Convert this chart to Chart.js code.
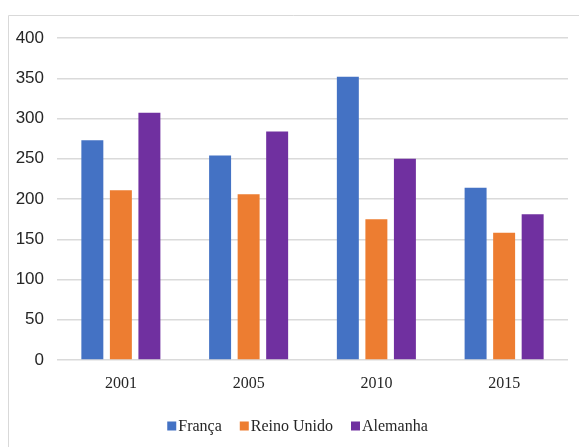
<!DOCTYPE html>
<html>
<head>
<meta charset="utf-8">
<script src="https://cdn.jsdelivr.net/npm/chart.js@4"></script>
<style>
  html, body { margin: 0; padding: 0; background: #fff; }
  #wrap { position: relative; width: 579px; height: 447px; }
</style>
</head>
<body>
<div id="wrap"><canvas id="c" width="579" height="447"></canvas></div>
<script>
// Anos e valores por país
const categories = ['2001', '2005', '2010', '2015'];
const franca = [273, 254, 352, 214];
const reinoUnido = [211, 206, 175, 158];
const alemanha = [307, 284, 250, 181];
const yTicks = [0, 50, 100, 150, 200, 250, 300, 350, 400];

const seriesNames = ['França', 'Reino Unido', 'Alemanha'];
const seriesColors = ['#4472C4', '#ED7D31', '#7030A0'];

// Moldura cinzenta à volta do gráfico
const framePlugin = {
  id: 'frame',
  beforeDraw(chart) {
    const ctx = chart.ctx;
    ctx.save();
    ctx.strokeStyle = '#d9d9d9';
    ctx.lineWidth = 1;
    ctx.beginPath();
    ctx.moveTo(8.5, chart.height);
    ctx.lineTo(8.5, 15.5);
    ctx.lineTo(chart.width, 15.5);
    ctx.stroke();
    ctx.restore();
  }
};

// Legenda compacta (quadrado + texto) centrada por baixo do eixo
const legendPlugin = {
  id: 'compactLegend',
  afterDraw(chart) {
    const ctx = chart.ctx;
    const box = 9, gap = 2, itemGap = 18;
    ctx.save();
    ctx.font = '16px "Liberation Serif", "Times New Roman", serif';
    ctx.textBaseline = 'middle';
    const items = chart.data.datasets.map(ds => ({
      label: ds.label, color: ds.backgroundColor,
      w: box + gap + ctx.measureText(ds.label).width
    }));
    const total = items.reduce((s, it) => s + it.w, 0) + itemGap * (items.length - 1);
    let x = 297.5 - total / 2;
    const cy = 426.5;
    items.forEach(it => {
      ctx.fillStyle = it.color;
      ctx.fillRect(x, cy - box / 2 - 0.5, box, box);
      ctx.fillStyle = '#262626';
      ctx.textAlign = 'left';
      ctx.fillText(it.label, x + box + gap, cy);
      x += it.w + itemGap;
    });
    ctx.restore();
  }
};

const data = {
  labels: categories,
  datasets: [franca, reinoUnido, alemanha].map((vals, i) => ({
    label: seriesNames[i],
    data: vals,
    backgroundColor: seriesColors[i],
    categoryPercentage: 0.67,
    barPercentage: 0.77
  }))
};

new Chart(document.getElementById('c'), {
  type: 'bar',
  data,
  plugins: [framePlugin, legendPlugin],
  options: {
    responsive: false,
    animation: false,
    devicePixelRatio: 1,
    layout: { padding: { top: 38, right: 11, bottom: 0, left: 0 } },
    plugins: { legend: { display: false }, tooltip: { enabled: false } },
    scales: {
      x: {
        grid: { display: false, drawTicks: false },
        border: { display: false },
        ticks: {
          padding: 14,
          color: '#262626',
          font: { family: '"Liberation Serif", "Times New Roman", serif', size: 16 }
        },
        afterFit(scale) { scale.height = 87; }
      },
      y: {
        min: 0,
        max: 400,
        afterBuildTicks(scale) { scale.ticks = yTicks.map(v => ({ value: v })); },
        grid: { color: '#dadada', lineWidth: 1.5, drawTicks: false },
        border: { display: false },
        ticks: {
          padding: 13,
          color: '#262626',
          font: { family: '"Liberation Sans Narrow", "Arial Narrow", "Liberation Sans", sans-serif', size: 17 }
        },
        afterFit(scale) { scale.width = 57; }
      }
    }
  }
});
</script>
</body>
</html>
